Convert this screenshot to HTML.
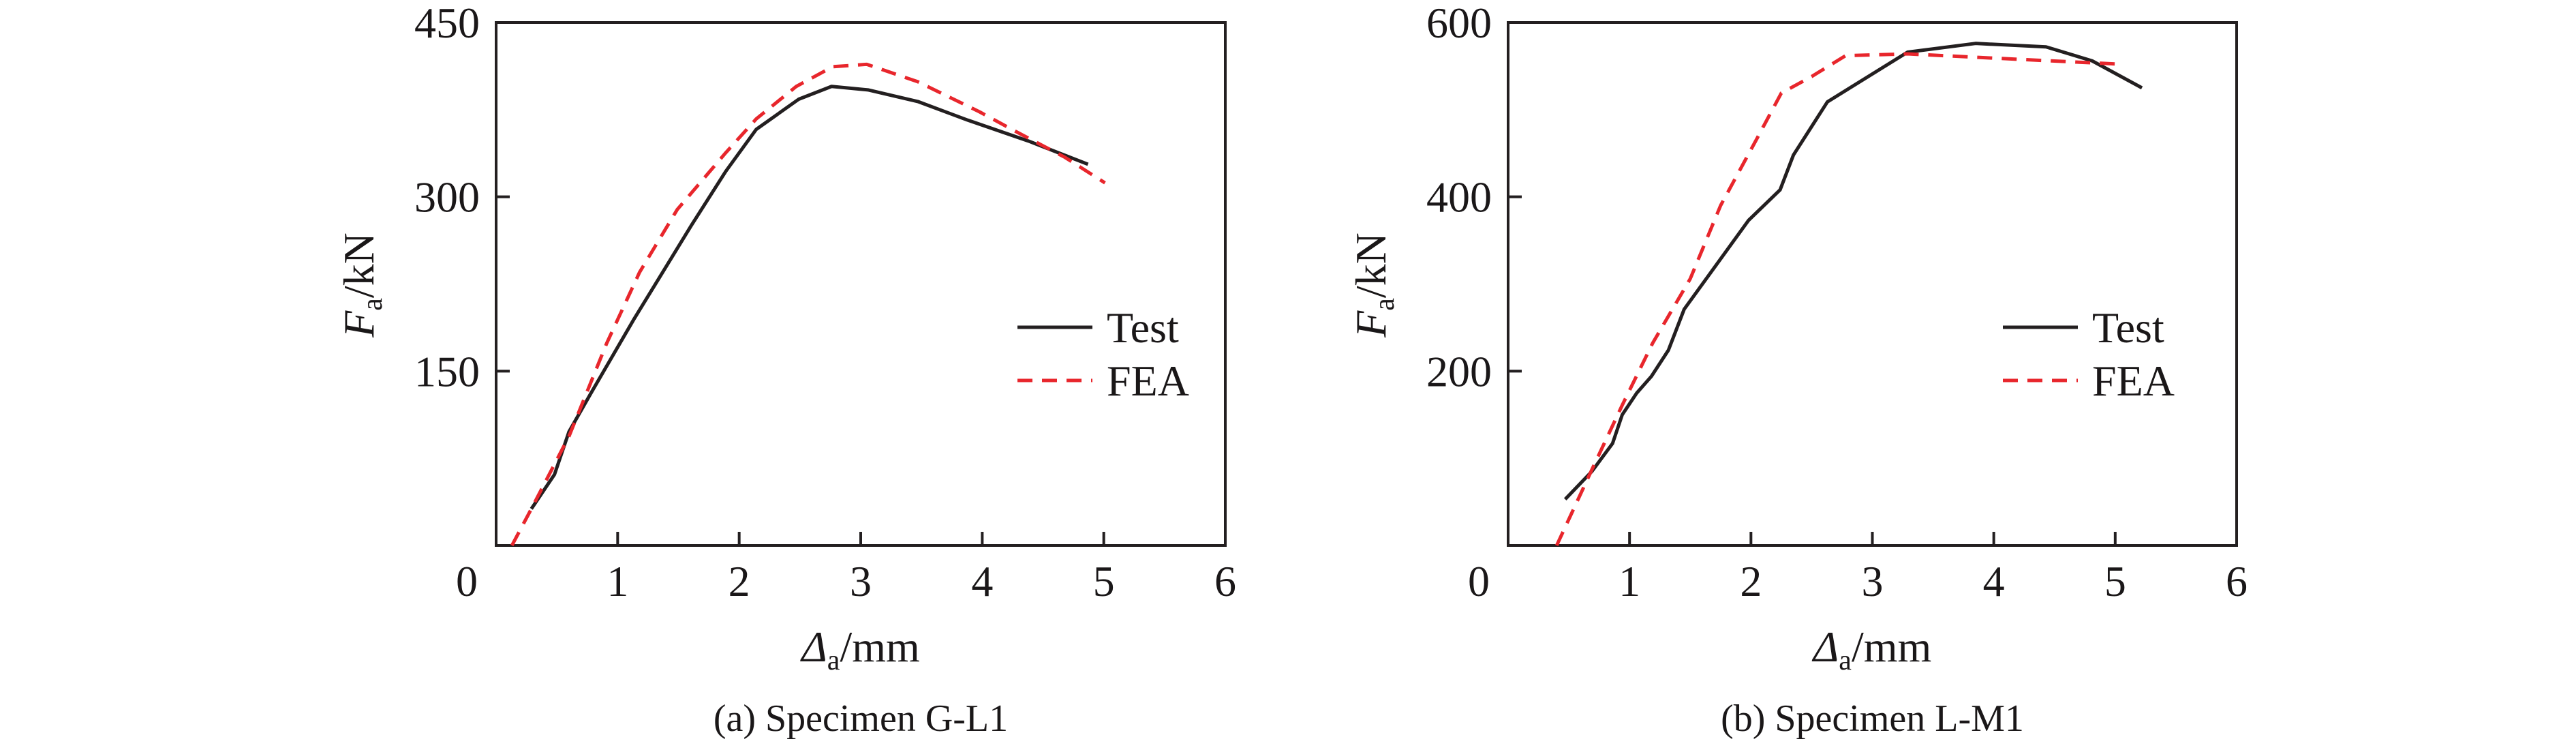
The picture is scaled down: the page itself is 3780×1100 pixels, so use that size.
<!DOCTYPE html>
<html><head><meta charset="utf-8"><style>
body{margin:0;background:#fff}
svg{display:block;font-family:"Liberation Serif",serif}
</style></head><body>
<svg id="c" width="3780" height="1100" viewBox="0 0 3780 1100"></svg>
<script>
const xTicks=[0,1,2,3,4,5,6];
const aYTicks=[150,300,450];
const aTestX=[0.29,0.48,0.60,0.78,1.13,1.61,1.89,2.14,2.49,2.76,3.06,3.47,3.88,4.38,4.87];
const aTestY=[31.5,61,98,131,194,276,322,358,384,395,392,382,366,348,328];
const aFeaX=[0.13,0.29,0.60,0.91,1.18,1.49,1.89,2.14,2.47,2.77,3.05,3.47,3.98,4.28,4.68,5.01];
const aFeaY=[0,31.5,94,174,235,289,338,367,395,412,414,399,373,356,334,312];
const bYTicks=[200,400,600];
const bTestX=[0.47,0.69,0.86,0.94,1.06,1.18,1.32,1.45,1.98,2.24,2.35,2.63,3.29,3.85,4.43,4.81,5.22];
const bTestY=[53,85,117,150,175,194,224,271,373,408,448,509,566,576,572,556,525];
const bFeaX=[0.40,0.69,0.94,1.19,1.50,1.75,2.05,2.25,2.50,2.78,3.29,3.87,4.47,5.07];
const bFeaY=[0,87,161,232,306,390,467,519,538,562,564,560,556,552];

const NS="http://www.w3.org/2000/svg";
const svg=document.getElementById('c');
function mk(tag,attrs,parent,text){const e=document.createElementNS(NS,tag);for(const k in attrs)e.setAttribute(k,attrs[k]);if(text!==undefined)e.textContent=text;parent.appendChild(e);return e;}

function panel(id,L,R,T,B,yMax,yTicks,tx,ty,fx,fy,legX,caption){
  const g=mk('g',{},svg);
  
  
  const sx=v=>L+(R-L)*v/6, sy=v=>B-(B-T)*v/yMax;
  const frame=mk('rect',{x:L,y:T,width:R-L,height:B-T,fill:'none',stroke:'#231f20','stroke-width':4},g);
  
  
  xTicks.forEach(t=>{
    if(t>0&&t<6){const tk=mk('line',{x1:sx(t),x2:sx(t),y1:B,y2:B-20,stroke:'#231f20','stroke-width':4},g);
      
      }
    const lx=t===0?L-43:sx(t);
    const lb=mk('text',{x:lx,y:874,'font-size':64,'text-anchor':'middle',fill:'#1a1718'},g,String(t));
    
    
  });
  yTicks.forEach(t=>{
    if(t<yMax){const tk=mk('line',{x1:L,x2:L+20,y1:sy(t),y2:sy(t),stroke:'#231f20','stroke-width':4},g);
      
      }
    const lb=mk('text',{x:L-24,y:sy(t)+22,'font-size':64,'text-anchor':'end',fill:'#1a1718'},g,String(t));
    
    
  });
  const line=(xs,ys,col,dash,name)=>{
    const p=mk('polyline',{points:xs.map((x,i)=>sx(x)+','+sy(ys[i])).join(' '),fill:'none',stroke:col,'stroke-width':5,'stroke-dasharray':dash,'stroke-linejoin':'round'},g);
    
    
  };
  line(tx,ty,'#231f20','none','test-series');
  line(fx,fy,'#e8262c','22,14','fea-series');
  const l1=mk('line',{x1:legX,x2:legX+110,y1:480,y2:480,stroke:'#231f20','stroke-width':5},g);
  
  
  const t1=mk('text',{x:legX+131,y:502,'font-size':64,fill:'#1a1718'},g,'Test');
  
  
  const l2=mk('line',{x1:legX,x2:legX+110,y1:558,y2:558,stroke:'#e8262c','stroke-width':5,'stroke-dasharray':'22,14'},g);
  
  
  const t2=mk('text',{x:legX+131,y:580,'font-size':64,fill:'#1a1718'},g,'FEA');
  
  
  const yt=mk('text',{transform:`translate(${L-180},418) rotate(-90)`,'font-size':64,'text-anchor':'middle',fill:'#1a1718'},g);
  
  
  yt.innerHTML='<tspan font-style="italic">F</tspan><tspan font-size="42" dy="12">a</tspan><tspan dy="-12">/kN</tspan>';
  const xt=mk('text',{x:(L+R)/2,y:970,'font-size':64,'text-anchor':'middle',fill:'#1a1718'},g);
  
  
  xt.innerHTML='<tspan font-style="italic">Δ</tspan><tspan font-size="42" dy="12">a</tspan><tspan dy="-12">/mm</tspan>';
  const cp=mk('text',{x:(L+R)/2,y:1072,'font-size':56,'text-anchor':'middle',fill:'#1a1718'},g,caption);
  
  
}
panel('g-l1',728,1798,33,800,450,aYTicks,aTestX,aTestY,aFeaX,aFeaY,1493,'(a) Specimen G-L1');
panel('l-m1',2213,3282,33,800,600,bYTicks,bTestX,bTestY,bFeaX,bFeaY,2939,'(b) Specimen L-M1');
</script>
</body></html>
